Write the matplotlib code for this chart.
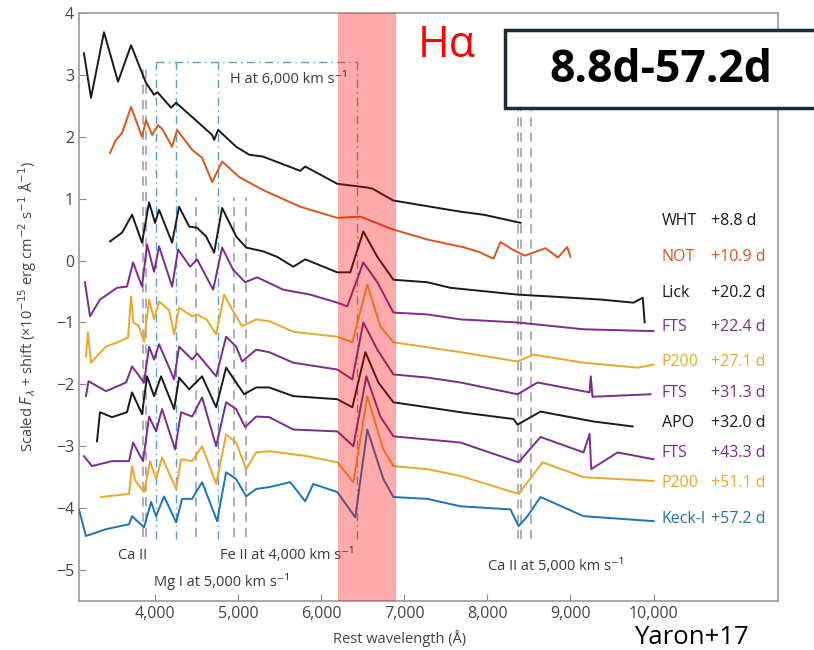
import numpy as np
import matplotlib.pyplot as plt
from matplotlib.patches import Rectangle
from matplotlib.ticker import FuncFormatter

plt.rcParams['font.family'] = ['Open Sans', 'DejaVu Sans']
plt.rcParams['mathtext.fontset'] = 'dejavusans'

# spectra: rest wavelength (A) and scaled flux + shift
wht_wave = [3145, 3230, 3386, 3555, 3712, 3892, 3989, 4030, 4194, 4254, 4447, 4688, 4712, 4760,
            4977, 5134, 5300, 5748, 5808, 6194, 6555, 6620, 6869, 7676, 7960, 8399]
wht_flux = [3.35, 2.63, 3.69, 2.89, 3.48, 2.87, 2.68, 2.72, 2.47, 2.55, 2.32, 2.03, 1.95, 2.11,
            1.84, 1.71, 1.68, 1.45, 1.52, 1.24, 1.18, 1.16, 0.97, 0.79, 0.74, 0.61]

not_wave = [3459, 3530, 3603, 3712, 3844, 3892, 3965, 4037, 4090, 4206, 4266, 4447, 4567, 4688,
            4808, 5013, 5300, 5748, 6194, 6471, 6869, 7278, 7555, 7700, 7900, 8074, 8158, 8300,
            8450, 8700, 8850, 8960, 9000]
not_flux = [1.74, 1.95, 2.06, 2.48, 2.00, 2.27, 2.03, 2.19, 2.12, 1.84, 2.11, 1.79, 1.66, 1.27,
            1.60, 1.35, 1.14, 0.87, 0.69, 0.71, 0.50, 0.34, 0.26, 0.22, 0.14, 0.03, 0.30, 0.18,
            0.08, 0.20, 0.05, 0.22, 0.06]

lick_wave = [3459, 3603, 3724, 3844, 3929, 4001, 4049, 4206, 4290, 4411, 4507, 4615, 4712, 4808,
             4977, 5097, 5300, 5471, 5664, 5808, 6194, 6350, 6507, 6676, 6869, 7278, 7555, 8363,
             8760, 9363, 9760, 9870, 9893]
lick_flux = [0.31, 0.45, 0.74, 0.29, 0.94, 0.61, 0.82, 0.29, 0.87, 0.55, 0.53, 0.39, 0.13, 0.85,
             0.39, 0.21, 0.15, 0.06, -0.10, 0.02, -0.19, -0.19, 0.47, 0.06, -0.31, -0.35, -0.44, -0.55,
             -0.58, -0.63, -0.68, -0.60, -1.0]

fts1_wave = [3157, 3218, 3338, 3543, 3663, 3736, 3844, 3904, 3989, 4049, 4206, 4278, 4423, 4507,
             4700, 4808, 4941, 5085, 5230, 5543, 5868, 6194, 6314, 6507, 6676, 6869, 7278, 7676,
             8363, 9158, 10000]
fts1_flux = [-0.35, -0.90, -0.63, -0.44, -0.42, -0.03, -0.42, 0.26, -0.18, 0.23, -0.42, 0.18, -0.10, 0.02,
             -0.47, 0.21, -0.15, -0.35, -0.27, -0.47, -0.55, -0.68, -0.74, -0.03, -0.35, -0.84, -0.87, -0.95,
             -1.00, -1.11, -1.14]

p200a_wave = [3169, 3193, 3230, 3410, 3567, 3676, 3712, 3740, 3800, 3868, 3929, 3989, 4049, 4170,
              4230, 4290, 4447, 4507, 4620, 4736, 4832, 4929, 5049, 5218, 5375, 5664, 6194, 6375,
              6555, 6712, 6869, 7278, 7676, 8363, 8556, 9158, 9809, 10000]
p200a_flux = [-1.55, -1.16, -1.65, -1.39, -1.31, -1.24, -0.58, -1.00, -1.05, -1.31, -0.63, -0.95, -0.66, -0.80,
              -1.19, -0.76, -0.90, -0.87, -0.95, -1.19, -0.55, -0.79, -1.06, -0.95, -0.98, -1.15, -1.23, -1.32,
              -0.39, -1.06, -1.32, -1.40, -1.48, -1.63, -1.52, -1.65, -1.73, -1.68]

fts2_wave = [3169, 3200, 3410, 3652, 3724, 3868, 3929, 3989, 4049, 4230, 4290, 4447, 4507, 4736,
             4856, 4977, 5049, 5218, 5375, 5664, 6194, 6375, 6507, 6676, 6869, 7278, 7676, 8363,
             8604, 9230, 9245, 9265, 9964]
fts2_flux = [-2.19, -1.95, -2.11, -1.97, -1.71, -1.97, -1.39, -1.60, -1.35, -1.92, -1.39, -1.60, -1.50, -1.87,
             -1.23, -1.39, -1.63, -1.44, -1.48, -1.65, -1.76, -1.92, -1.00, -1.44, -1.84, -1.89, -1.97, -2.16,
             -1.97, -2.13, -1.87, -2.20, -2.16]

apo_wave = [3302, 3338, 3483, 3663, 3724, 3844, 3904, 3989, 4073, 4230, 4290, 4411, 4567, 4736,
            4856, 4977, 5073, 5218, 5375, 5664, 6194, 6375, 6532, 6688, 6869, 7278, 7676, 8315,
            8363, 8640, 9278, 9749]
apo_flux = [-2.92, -2.45, -2.53, -2.45, -2.13, -2.48, -1.87, -2.19, -1.87, -2.40, -1.89, -2.08, -1.87, -2.37,
            -1.73, -1.97, -2.16, -2.05, -2.05, -2.19, -2.24, -2.37, -1.48, -1.97, -2.29, -2.37, -2.45, -2.56,
            -2.65, -2.44, -2.60, -2.68]

fts3_wave = [3145, 3242, 3483, 3688, 3736, 3856, 3929, 4013, 4085, 4242, 4314, 4447, 4567, 4736,
             4856, 4977, 5085, 5218, 5375, 5664, 6194, 6387, 6544, 6712, 6869, 7278, 7676, 8375,
             8640, 9158, 9230, 9250, 9567, 10000]
fts3_flux = [-3.16, -3.32, -3.24, -3.24, -2.94, -3.24, -2.52, -2.76, -2.40, -3.05, -2.45, -2.52, -2.21, -3.00,
             -2.29, -2.40, -2.69, -2.52, -2.53, -2.73, -2.76, -3.00, -1.87, -2.52, -2.84, -2.89, -2.94, -3.26,
             -2.85, -3.10, -2.80, -3.37, -3.10, -3.21]

p200b_wave = [3350, 3688, 3724, 3760, 3868, 3941, 4013, 4085, 4254, 4314, 4447, 4567, 4736, 4856,
              4977, 5097, 5218, 5375, 5832, 6194, 6387, 6555, 6748, 6869, 7278, 7676, 8375, 8495,
              8664, 9158, 10000]
p200b_flux = [-3.82, -3.77, -3.32, -3.55, -3.74, -3.24, -3.53, -3.18, -3.69, -3.21, -3.24, -3.00, -3.61, -2.81,
              -2.94, -3.37, -3.10, -3.08, -3.16, -3.26, -3.58, -2.19, -3.05, -3.32, -3.37, -3.48, -3.77, -3.56,
              -3.26, -3.50, -3.56]

keck_wave = [3085, 3169, 3410, 3688, 3724, 3868, 3953, 4013, 4109, 4254, 4326, 4447, 4567, 4748,
             4856, 4977, 5097, 5218, 5375, 5628, 5808, 5905, 6194, 6411, 6555, 6748, 6869, 7278,
             7676, 8278, 8375, 8483, 8640, 9158, 10000]
keck_flux = [-4.02, -4.45, -4.34, -4.26, -4.13, -4.31, -3.90, -4.13, -3.81, -4.23, -3.85, -3.85, -3.58, -4.21,
             -3.42, -3.53, -3.81, -3.69, -3.66, -3.58, -3.89, -3.61, -3.74, -4.15, -2.73, -3.53, -3.82, -3.85,
             -3.97, -4.02, -4.29, -4.13, -3.82, -4.13, -4.21]

telescopes = ['WHT', 'NOT', 'Lick', 'FTS', 'P200', 'FTS', 'APO', 'FTS', 'P200', 'Keck-I']
epochs = ['+8.8 d', '+10.9 d', '+20.2 d', '+22.4 d', '+27.1 d', '+31.3 d', '+32.0 d', '+43.3 d', '+51.1 d', '+57.2 d']

# line positions (A)
ca_hk = [3860, 3895]
h_lines = [4018, 4254, 4762, 6432]
mg_line = [4495]
fe_lines = [4950, 5100]
ca_nir = [8363, 8399, 8520]

black = '#1a1a1a'
orange = '#d9561f'
purple = '#7a2d8c'
gold = '#e8a82a'
blue = '#1f74b5'

spectra = [
    (wht_wave, wht_flux, black),
    (not_wave, not_flux, orange),
    (lick_wave, lick_flux, black),
    (fts1_wave, fts1_flux, purple),
    (p200a_wave, p200a_flux, gold),
    (fts2_wave, fts2_flux, purple),
    (apo_wave, apo_flux, black),
    (fts3_wave, fts3_flux, purple),
    (p200b_wave, p200b_flux, gold),
    (keck_wave, keck_flux, blue),
]
label_y = [0.645, 0.065, -0.53, -1.08, -1.645, -2.145, -2.63, -3.11, -3.6, -4.18]

fig = plt.figure(figsize=(8.14, 6.5), dpi=100)
ax = fig.add_axes([0.097, 0.0754, 0.859, 0.9046])

for w, f, c in spectra:
    ax.plot(w, f, color=c, lw=1.4, zorder=3)

for (w, f, c), name, ep, yy in zip(spectra, telescopes, epochs, label_y):
    ax.text(10100, yy, name, color=c, fontsize=11.5, va='center', ha='left')
    ax.text(10690, yy, ep, color=c, fontsize=11.5, va='center', ha='left')

dash_col = '#9d96ab'
h_col = '#5b9fd0'
ax.vlines(ca_hk, -4.47, 3.1, colors=dash_col, linestyles=(0, (6, 4)), lw=1.1, zorder=2)
ax.vlines(mg_line + fe_lines, -4.47, 1.02, colors=dash_col, linestyles=(0, (6, 4)), lw=1.1, zorder=2)
ax.vlines(ca_nir, -4.5, 3.0, colors=dash_col, linestyles=(0, (6, 4)), lw=1.1, zorder=2)
ax.vlines(h_lines, -4.5, 3.21, colors=h_col, linestyles=(0, (6, 3, 1, 3)), lw=1.0, zorder=2)
ax.plot([h_lines[0], h_lines[-1]], [3.21, 3.21], color=h_col, ls=(0, (6, 3, 1, 3)), lw=1.0, zorder=2)

txt_col = '#3a3a3a'
ax.text(4905, 2.92, 'H at 6,000 km s⁻¹', fontsize=10.5, color=txt_col, va='center')
ax.text(3555, -4.77, 'Ca II', fontsize=10.5, color=txt_col, va='center')
ax.text(4784, -4.77, 'Fe II at 4,000 km s⁻¹', fontsize=10.5, color=txt_col, va='center')
ax.text(3989, -5.19, 'Mg I at 5,000 km s⁻¹', fontsize=10.5, color=txt_col, va='center')
ax.text(8013, -4.94, 'Ca II at 5,000 km s⁻¹', fontsize=10.5, color=txt_col, va='center')

# H-alpha band
ax.axvspan(6200, 6900, color='red', alpha=0.33, lw=0, zorder=5)

ax.set_xlim(3085, 11500)
ax.set_ylim(-5.5, 4)
ax.set_xticks([4000, 5000, 6000, 7000, 8000, 9000, 10000])
ax.set_yticks(range(-5, 5))
ax.xaxis.set_major_formatter(FuncFormatter(lambda v, p: f'{int(v):,}'))
ax.yaxis.set_major_formatter(FuncFormatter(lambda v, p: f'{int(v)}'.replace('-', '\u2212')))
ax.tick_params(direction='in', length=5, color='#8a8a8a', labelcolor='#444444', labelsize=11.5)
for s in ax.spines.values():
    s.set_color('#9a9a9a')
    s.set_linewidth(1.2)

ax.set_xlabel('Rest wavelength (Å)', fontsize=10.5, color='#444444')
ax.xaxis.set_label_coords(0.459, -0.049)
ax.set_ylabel(r'Scaled $F_\lambda$ + shift (×10$^{-15}$ erg cm$^{-2}$ s$^{-1}$ Å$^{-1}$)',
              fontsize=10.5, color='#444444')
ax.yaxis.set_label_coords(-0.057, 0.5)

fig.text(447 / 814, 1 - 46 / 650, 'Hα', color='red', fontsize=31, ha='center', va='center')

box = Rectangle((505 / 814, 1 - 108 / 650), 0.45, 78 / 650, transform=fig.transFigure,
                facecolor='white', edgecolor='#1c2b3a', lw=2.5, zorder=10)
fig.add_artist(box)
fig.text(661 / 814, 1 - 70 / 650, '8.8d-57.2d', fontsize=32, fontweight='bold', color='black',
         ha='center', va='center', zorder=11)

fig.text(634 / 814, 0.0, 'Yaron+17', fontsize=18.5, color='black', ha='left', va='bottom')

fig.savefig('out.png', dpi=100)
